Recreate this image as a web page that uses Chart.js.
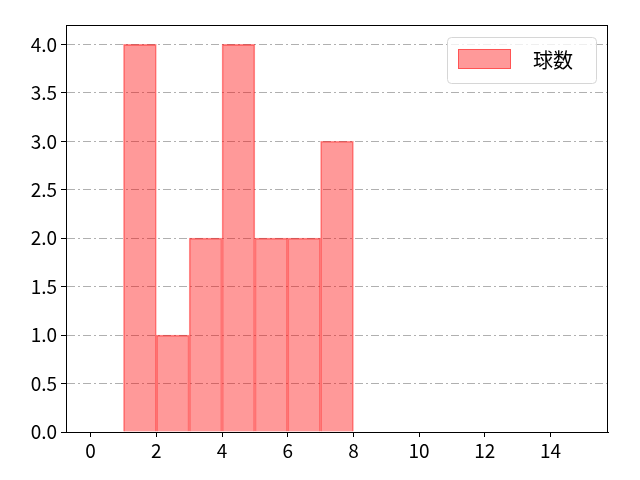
<!DOCTYPE html>
<html>
<head>
<meta charset="utf-8">
<script src="https://cdn.jsdelivr.net/npm/chart.js@4/dist/chart.umd.min.js"></script>
<style>
    html, body { margin: 0; padding: 0; background: #fff; }
    #wrap { width: 640px; height: 480px; }
</style>
</head>
<body>
<div id="wrap"><canvas id="chart"></canvas></div>
<script>
    // Histogram bins (left edges) and counts
    var binStarts = [1, 2, 3, 4, 5, 6, 7];
    var counts = [4, 1, 2, 4, 2, 2, 3];
    var xTicks = [0, 2, 4, 6, 8, 10, 12, 14];
    var yTicks = [0, 0.5, 1, 1.5, 2, 2.5, 3, 3.5, 4];
    var seriesLabel = '球数';

    var FONT = "'Noto Sans CJK JP', 'DejaVu Sans', sans-serif";

    var points = binStarts.map(function (b, i) {
        return { x: b + 0.5, y: counts[i] };
    });

    // Legend box inside the plot area (top right), matplotlib-like
    var boxLegend = {
        id: 'boxLegend',
        afterDraw: function (chart) {
            var ctx = chart.ctx;
            var area = chart.chartArea;
            var ds = chart.data.datasets[0];
            var w = 149, h = 46;
            var x = area.right - 12 - w, y = area.top + 12;
            ctx.save();
            ctx.fillStyle = 'rgba(255,255,255,0.8)';
            ctx.strokeStyle = '#d6d6d6';
            ctx.lineWidth = 1;
            ctx.beginPath();
            ctx.roundRect(x + 0.5, y + 0.5, w, h, 4);
            ctx.fill();
            ctx.stroke();
            ctx.fillStyle = ds.backgroundColor;
            ctx.fillRect(x + 11, y + 12, 53, 20);
            ctx.strokeStyle = ds.borderColor;
            ctx.strokeRect(x + 11.5, y + 12.5, 52, 19);
            ctx.fillStyle = '#000';
            ctx.font = '20px ' + FONT;
            ctx.textBaseline = 'middle';
            ctx.fillText(ds.label, x + 86, y + 23);
            ctx.restore();
        }
    };

    new Chart(document.getElementById('chart'), {
        type: 'bar',
        data: {
            datasets: [{
                label: seriesLabel,
                data: points,
                backgroundColor: 'rgba(255, 0, 0, 0.4)',
                borderColor: 'rgba(255, 0, 0, 0.45)',
                borderWidth: 1,
                barPercentage: 1,
                categoryPercentage: 1,
                grouped: false,
            }],
        },
        options: {
            responsive: true,
            maintainAspectRatio: false,
            animation: false,
            layout: { padding: { top: 25, right: 32, left: 0, bottom: 0 } },
            plugins: {
                legend: { display: false },
                tooltip: { enabled: false },
            },
            scales: {
                x: {
                    type: 'linear',
                    offset: false,
                    min: -0.75,
                    max: 15.75,
                    afterBuildTicks: function (axis) {
                        axis.ticks = xTicks.map(function (v) { return { value: v }; });
                    },
                    ticks: {
                        color: '#000',
                        font: { family: FONT, size: 19 },
                        padding: 2,
                        maxRotation: 0,
                        callback: function (v) { return String(v); },
                    },
                    grid: {
                        display: true,
                        offset: false,
                        drawOnChartArea: false,
                        drawTicks: true,
                        tickLength: 5,
                        color: '#000',
                    },
                    border: { display: true, color: '#000', width: 1 },
                    afterFit: function (axis) { axis.height = 48; },
                },
                y: {
                    min: 0,
                    max: 4.2,
                    afterBuildTicks: function (axis) {
                        axis.ticks = yTicks.map(function (v) { return { value: v }; });
                    },
                    ticks: {
                        color: '#000',
                        font: { family: FONT, size: 19 },
                        padding: 4,
                        callback: function (v) { return v.toFixed(1); },
                    },
                    grid: {
                        color: function (c) { return c.tick && c.tick.value === 0 ? 'rgba(0,0,0,0)' : '#b0b0b0'; },
                        tickColor: '#000',
                        tickLength: 5,
                        lineWidth: 1,
                    },
                    border: { display: true, color: '#000', width: 1, dash: [8, 3, 2, 3] },
                    afterFit: function (axis) { axis.width = 66; },
                },
            },
        },
        plugins: [boxLegend, {
            id: 'frame',
            afterDraw: function (chart) {
                var a = chart.chartArea;
                var ctx = chart.ctx;
                ctx.save();
                ctx.strokeStyle = '#000';
                ctx.lineWidth = 1;
                ctx.strokeRect(a.left + 0.5, a.top + 0.5, a.right - a.left - 1, a.bottom - a.top);
                ctx.restore();
            }
        }],
    });
</script>
</body>
</html>
